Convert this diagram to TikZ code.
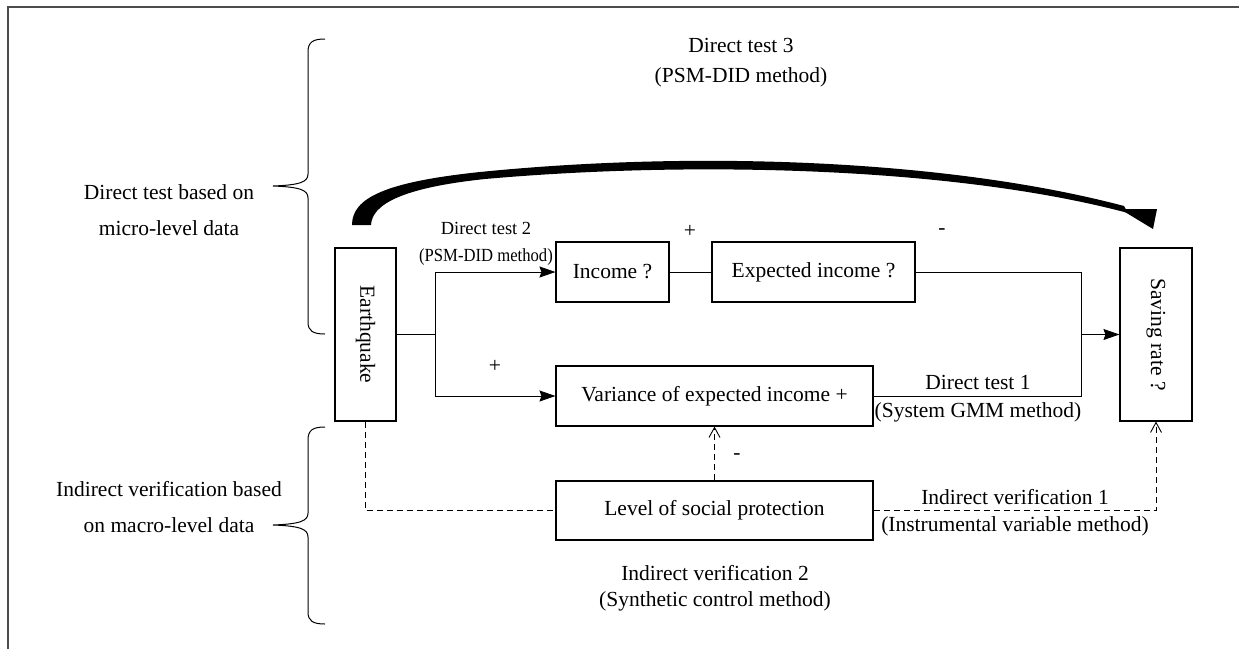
\documentclass[tikz,border=0pt]{standalone}
\usepackage{fontspec}
\setmainfont{Liberation Serif}
\usetikzlibrary{arrows.meta}
\begin{document}
\begin{tikzpicture}[x=1pt,y=-1pt,
  box/.style={draw, line width=1.1pt, inner sep=0pt, font=\fontsize{21.5}{26}\selectfont},
  lbl/.style={inner sep=0pt, font=\fontsize{21.5}{26}\selectfont},
  slbl/.style={inner sep=0pt, font=\fontsize{18.5}{22}\selectfont},
  conn/.style={line width=0.9pt},
  arr/.style={conn, -{Stealth[length=16pt,width=11pt,inset=2pt]}},
  dline/.style={conn, dash pattern=on 6pt off 4pt},
  darr/.style={dline, -{Straight Barb[length=10pt,width=11pt]}},
  brace/.style={line width=1pt},
]
\useasboundingbox (0,0) rectangle (1239,649);
\draw[line width=1.5pt, black!70] (8,649) -- (8,7) -- (1239,7);

% nodes
\node[box, minimum width=61pt, minimum height=173pt] (eq) at (365.5,334.5) {\rotatebox{-90}{Earthquake}};
\node[box, minimum width=72pt, minimum height=173pt] (sr) at (1156,334.5) {\rotatebox{-90}{Saving rate ?}};
\node[box, minimum width=113pt, minimum height=60pt] (inc) at (612.5,272) {Income ?};
\node[box, minimum width=203pt, minimum height=60pt] (exp) at (813.5,272) {Expected income ?};
\node[box, minimum width=317pt, minimum height=60pt] (var) at (714.5,396) {Variance of expected income +};
\node[box, minimum width=317pt, minimum height=59pt] (lsp) at (714.5,510.5) {Level of social protection};

% connectors
\path (eq.east) ++(39,0) coordinate (j);
\draw[conn] (eq.east) -- (j);
\draw[arr] (j) |- (inc.west);
\draw[arr] (j) |- (var.west);
\draw[conn] (inc.east) -- (exp.west);
\coordinate (r) at (1081,334.5);
\draw[conn] (exp.east) -| (r) |- (var.east);
\draw[arr] (r) -- (sr.west);
\draw[dline] (eq.south) |- (lsp.west);
\draw[darr] (lsp.east) -| (sr.south);
\draw[darr] (lsp.north) -- (var.south);

% thick curved arrow
\fill (352,225) .. controls (352,198) and (385,182) .. (480,172)
  .. controls (700,150) and (950,160) .. (1124,206) -- (1128,213)
  .. controls (960,168) and (700,160) .. (485,179)
  .. controls (400,188) and (372,205) .. (371,225) -- cycle;
\fill (1120,209) -- (1157,209) -- (1153,229) -- cycle;

% braces
\draw[brace] (325,39) .. controls (313,39) and (308,42) .. (308,52) -- (308,174)
  .. controls (308,182) and (300,185) .. (273,186)
  .. controls (300,187) and (308,190) .. (308,198) -- (308,322)
  .. controls (308,331) and (313,334) .. (325,334);
\draw[brace] (325,427) .. controls (313,427) and (308,430) .. (308,440) -- (308,513)
  .. controls (308,521) and (300,524) .. (273,525)
  .. controls (300,526) and (308,529) .. (308,537) -- (308,612)
  .. controls (308,621) and (313,624) .. (325,624);

% labels
\node[lbl] (plus1) at (690,231) {+};
\node[lbl] (minus1) at (942,232) {-};
\node[lbl] (plus2) at (495,366) {+};
\node[lbl] (minus2) at (737,457) {-};
\node[slbl] (dt2) at (486,228) {Direct test 2};
\node[slbl] (dt2m) at (486,257) {\scalebox{0.9}[1]{(PSM-DID method)}};
\node[lbl] (dt1) at (978,382) {Direct test 1};
\node[lbl] (dt1m) at (978,412) {(System GMM method)};
\node[lbl] (iv1) at (1015,497) {Indirect verification 1};
\node[lbl] (iv1m) at (1015,526) {(Instrumental variable method)};
\node[lbl] (iv2) at (715,573) {Indirect verification 2};
\node[lbl] (iv2m) at (715,601) {(Synthetic control method)};
\node[lbl] (dt3) at (741,45) {Direct test 3};
\node[lbl] (dt3m) at (741,77) {(PSM-DID method)};
\node[lbl] (micro1) at (169,192) {Direct test based on};
\node[lbl] (micro2) at (169,228) {micro-level data};
\node[lbl] (macro1) at (169,489) {Indirect verification based};
\node[lbl] (macro2) at (169,525) {on macro-level data};
\end{tikzpicture}
\end{document}
